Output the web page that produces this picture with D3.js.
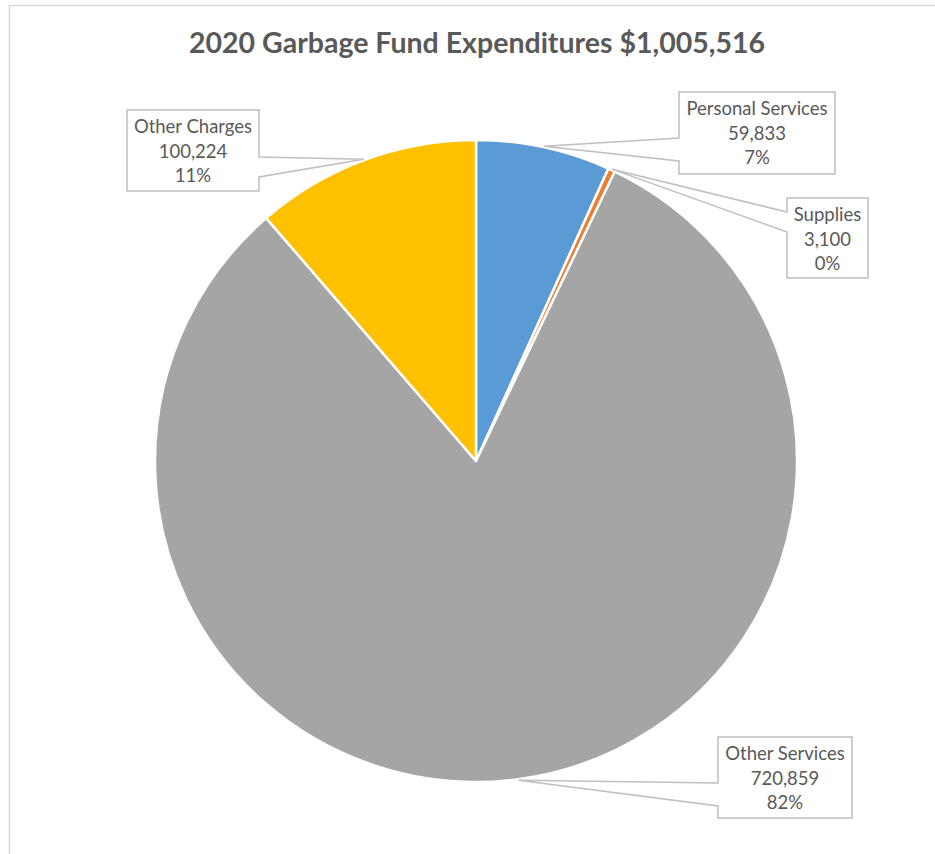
<!DOCTYPE html>
<html><head><meta charset="utf-8">
<script src="https://cdn.jsdelivr.net/npm/d3@7"></script>
<style>html,body{margin:0;padding:0;background:#fff;overflow:hidden}</style>
</head><body>
<svg id="chart" width="935" height="854"></svg>
<script>
const titleText = "2020 Garbage Fund Expenditures $1,005,516";
const categories = ["Personal Services", "Supplies", "Other Services", "Other Charges"];
const values = [59833, 3100, 720859, 100224];
const colors = ["#5B9BD5", "#ED7D31", "#A5A5A5", "#FFC000"];

// label box layout (positions only)
const boxes = [
  {x: 679, y: 92, w: 156, h: 82, side: "left", py1: 138, py2: 161},
  {x: 787, y: 198, w: 81, h: 80, side: "left", py1: 212, py2: 232},
  {x: 718, y: 737, w: 134, h: 81, side: "left", py1: 783, py2: 806},
  {x: 127, y: 110, w: 132, h: 81, side: "right", py1: 157, py2: 177}
];

const svg = d3.select("#chart");
const cx = 476, cy = 461, R = 321;

// chart frame
svg.append("rect").attr("x", 9.5).attr("y", 5.5).attr("width", 1000).attr("height", 1000)
  .attr("fill", "#fff").attr("stroke", "#d9d9d9").attr("stroke-width", 1.5);

svg.append("text").attr("x", 477).attr("y", 53).attr("text-anchor", "middle")
  .attr("font-family", "Lato, 'Open Sans', sans-serif").attr("font-weight", "bold")
  .attr("font-size", 28.5).attr("fill", "#595959").text(titleText);

const total = d3.sum(values);
const pie = d3.pie().sort(null).value(d => d)(values);
const arc = d3.arc().innerRadius(0).outerRadius(R);
const g = svg.append("g").attr("transform", `translate(${cx},${cy})`);
g.selectAll("path").data(pie).join("path")
  .attr("d", arc).attr("fill", (d, i) => colors[i])
  .attr("stroke", "#fff").attr("stroke-width", 2.5).attr("stroke-linejoin", "round");

const fmt = d3.format(",");
pie.forEach((d, i) => {
  const b = boxes[i];
  const a = (d.startAngle + d.endAngle) / 2;
  const tx = cx + Math.sin(a) * (R + 1), ty = cy - Math.cos(a) * (R + 1);
  let p;
  if (b.side === "left") {
    p = [[b.x, b.y], [b.x + b.w, b.y], [b.x + b.w, b.y + b.h], [b.x, b.y + b.h], [b.x, b.py2], [tx, ty], [b.x, b.py1]];
  } else {
    p = [[b.x, b.y], [b.x + b.w, b.y], [b.x + b.w, b.py1], [tx, ty], [b.x + b.w, b.py2], [b.x + b.w, b.y + b.h], [b.x, b.y + b.h]];
  }
  svg.append("path").attr("d", "M" + p.map(q => q.join(",")).join("L") + "Z")
    .attr("fill", "#fff").attr("stroke", "#bfbfbf").attr("stroke-width", 1.5);
  const lines = [categories[i], fmt(values[i]), Math.round(values[i] / total * 100) + "%"];
  const t = svg.append("text").attr("text-anchor", "middle")
    .attr("font-family", "Lato, 'Open Sans', sans-serif").attr("font-size", 18.5).attr("fill", "#595959");
  lines.forEach((s, k) => {
    t.append("tspan").attr("x", b.x + b.w / 2).attr("y", b.y + 23 + k * 24.5).text(s);
  });
});
</script>
</body></html>
